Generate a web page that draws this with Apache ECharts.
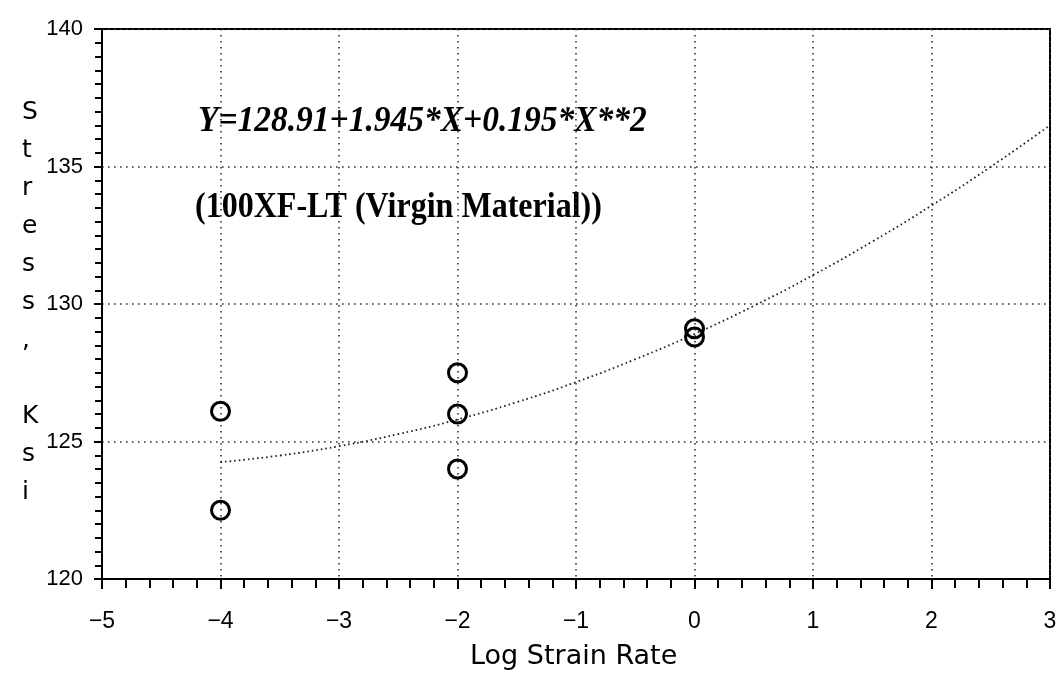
<!DOCTYPE html>
<html>
<head>
<meta charset="utf-8">
<script src="https://cdn.jsdelivr.net/npm/echarts@6/dist/echarts.min.js"></script>
<style>html,body{margin:0;padding:0;background:#fff;}#c{width:1063px;height:691px;}</style>
</head>
<body>
<div id="c"></div>
<script>
// Observed data points (Log strain rate, Stress Ksi)
const obsX = [-4, -4, -2, -2, -2, 0, 0];
const obsY = [126.1, 122.5, 127.5, 126.0, 124.0, 129.1, 128.8];
// Fitted curve
const fitX = [-4, -3.5, -3, -2.5, -2, -1.5, -1, -0.5, 0, 0.5, 1, 1.5, 2, 2.5, 3];
const fitY = [124.25, 124.49, 124.83, 125.27, 125.8, 126.43, 127.16, 127.99, 128.91, 129.93, 131.05, 132.27, 133.58, 134.99, 136.5];
const xTicks = [-5, -4, -3, -2, -1, 0, 1, 2, 3];
const yTicks = [120, 125, 130, 135, 140];
const equationText = 'Y=128.91+1.945*X+0.195*X**2';
const subtitleText = '(100XF-LT (Virgin Material))';
const xTitle = 'Log Strain Rate';
const yTitle = 'Stress, Ksi';

const tickFont = "'Liberation Sans', Arial, sans-serif";
const chart = echarts.init(document.getElementById('c'), null, {renderer: 'canvas'});
const dotted = {color: '#333', width: 1.6, type: [1.6, 4.4]};

chart.setOption({
  animation: false,
  backgroundColor: '#fff',
  grid: {left: 102, right: 13, top: 29, bottom: 112, show: true, borderColor: '#000', borderWidth: 2, backgroundColor: 'transparent'},
  xAxis: {
    type: 'value', min: xTicks[0], max: xTicks[xTicks.length - 1], interval: 1,
    axisLine: {show: true, onZero: false, lineStyle: {color: '#000', width: 2}},
    axisTick: {show: true, length: 10, lineStyle: {color: '#000', width: 2}},
    minorTick: {show: true, splitNumber: 5, length: 9, lineStyle: {color: '#000', width: 2}},
    axisLabel: {color: '#000', fontSize: 23, fontFamily: tickFont, margin: 31,
      formatter: v => xTicks.includes(v) ? String(v).replace('-', '\u2212') : ''},
    splitLine: {show: true, lineStyle: dotted}
  },
  yAxis: {
    type: 'value', min: yTicks[0], max: yTicks[yTicks.length - 1], interval: 5,
    axisLine: {show: true, onZero: false, lineStyle: {color: '#000', width: 2}},
    axisTick: {show: true, length: 8, lineStyle: {color: '#000', width: 2}},
    minorTick: {show: true, splitNumber: 10, length: 7, lineStyle: {color: '#000', width: 2}},
    axisLabel: {color: '#000', fontSize: 22, fontFamily: tickFont, margin: 19,
      formatter: v => yTicks.includes(v) ? String(v) : ''},
    splitLine: {show: true, lineStyle: dotted}
  },
  graphic: [
    {type: 'text', left: 198, top: 104, scaleX: 0.93, style: {text: equationText, fontSize: 36, fontStyle: 'italic', fontWeight: 'bold', fontFamily: "'Liberation Serif', serif", fill: '#000'}},
    {type: 'text', left: 195, top: 190, scaleX: 0.89, style: {text: subtitleText, fontSize: 36, fontWeight: 'bold', fontFamily: "'Liberation Serif', serif", fill: '#000'}},
    {type: 'text', left: 22, top: 93, style: {text: yTitle.split('').map(c => c === ' ' ? '' : c).join('\n'), fontSize: 25, lineHeight: 38, align: 'center', fontFamily: "'DejaVu Sans', sans-serif", fill: '#000'}},
    {type: 'text', left: 470, top: 643, style: {text: xTitle, fontSize: 27, fontFamily: "'DejaVu Sans', sans-serif", fill: '#000'}}
  ],
  series: [
    {type: 'line', data: fitX.map((x, i) => [x, fitY[i]]), smooth: true, showSymbol: false, symbol: 'none',
      lineStyle: {color: '#222', width: 1.8, type: [1.6, 3]}, z: 3},
    {type: 'scatter', data: obsX.map((x, i) => [x, obsY[i]]), symbol: 'circle', symbolSize: 18,
      itemStyle: {color: 'rgba(255,255,255,0)', borderColor: '#000', borderWidth: 3, opacity: 1}, z: 4}
  ]
});
</script>
</body>
</html>
